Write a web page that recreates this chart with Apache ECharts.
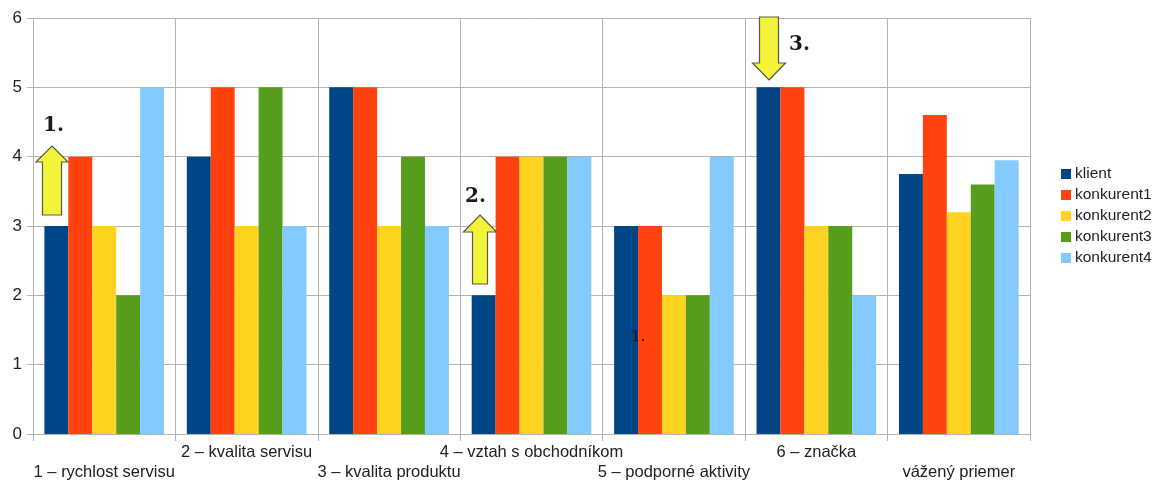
<!DOCTYPE html>
<html><head><meta charset="utf-8">
<script src="https://cdn.jsdelivr.net/npm/echarts@6/dist/echarts.min.js"></script>
<style>html,body{margin:0;padding:0;background:#fff}#c{width:1160px;height:481px}</style>
</head><body><div id="c"></div>
<script>
const categories = ['1 – rychlost servisu','2 – kvalita servisu','3 – kvalita produktu','4 – vztah s obchodníkom','5 – podporné aktivity','6 – značka','vážený priemer'];
const klient      = [3, 4, 5, 2, 3, 5, 3.75];
const konkurent1  = [4, 5, 5, 4, 3, 5, 4.6];
const konkurent2  = [3, 3, 3, 4, 2, 3, 3.2];
const konkurent3  = [2, 5, 4, 4, 2, 3, 3.6];
const konkurent4  = [5, 3, 3, 4, 4, 2, 3.95];
const seriesNames = ['klient','konkurent1','konkurent2','konkurent3','konkurent4'];
const yTicks = [0,1,2,3,4,5,6];

const colors = ['#004586','#ff420e','#ffd320','#579d1c','#83caff'];
const font = 'Liberation Sans, Arial, sans-serif';
const chart = echarts.init(document.getElementById('c'));
const data = [klient, konkurent1, konkurent2, konkurent3, konkurent4];

function upArrow(cx, tipY, baseY, headY, halfHead, halfShaft){
  return [[cx,tipY],[cx+halfHead,headY],[cx+halfShaft,headY],[cx+halfShaft,baseY],[cx-halfShaft,baseY],[cx-halfShaft,headY],[cx-halfHead,headY]];
}
function downArrow(cx, tipY, topY, headY, halfHead, halfShaft){
  return [[cx,tipY],[cx+halfHead,headY],[cx+halfShaft,headY],[cx+halfShaft,topY],[cx-halfShaft,topY],[cx-halfShaft,headY],[cx-halfHead,headY]];
}
const arrowStyle = {fill:'#f3f33a', stroke:'#5a5a4a', lineWidth:1.2};
const numStyle = {fill:'#1a1a1a', font:'bold 20px "DejaVu Serif", "Liberation Serif", serif'};

chart.setOption({
  animation:false,
  backgroundColor:'#fff',
  color: colors,
  grid:{left:33, right:130, top:18, bottom:47, containLabel:false, outerBoundsMode:'none'},
  legend:{
    orient:'vertical', left:1056, top:161, itemWidth:10, itemHeight:10, itemGap:5,
    icon:'rect',
    textStyle:{fontFamily:font, fontSize:15.5, color:'#222', padding:[0,0,0,-1]},
    data: seriesNames
  },
  xAxis:{
    type:'category', data:categories,
    axisLine:{show:true, lineStyle:{color:'#b3b3b3', width:1}},
    axisTick:{show:true, length:7, lineStyle:{color:'#b3b3b3'}},
    splitLine:{show:true, lineStyle:{color:'#b3b3b3', width:1}},
    axisLabel:{interval:0, fontFamily:font, fontSize:16.5, color:'#222', margin:8, lineHeight:20,
      hideOverlap:false,
      formatter:(v,i)=> i%2===0 ? '\n'+v : v}
  },
  yAxis:{
    type:'value', min:0, max:6, interval:1,
    axisLine:{show:true, lineStyle:{color:'#b3b3b3'}},
    axisTick:{show:true, length:6, lineStyle:{color:'#b3b3b3'}},
    splitLine:{show:true, lineStyle:{color:'#b3b3b3', width:1}},
    axisLabel:{fontFamily:font, fontSize:17, color:'#222', margin:11,
      formatter:v=> yTicks.includes(v) ? String(v) : ''}
  },
  series: seriesNames.map((n,i)=>({
    name:n, type:'bar', data:data[i], barGap:'0%', barCategoryGap:'16%',
    itemStyle:{color:colors[i]}
  }))
});

chart.setOption({
  graphic:[
    {type:'polygon', shape:{points:upArrow(52,146,215,162,16,9.5)}, style:arrowStyle, z:100},
    {type:'polygon', shape:{points:upArrow(480,215,284,232,16.5,7.5)}, style:arrowStyle, z:100},
    {type:'polygon', shape:{points:downArrow(769,80,17,63,16.5,9.5)}, style:arrowStyle, z:100},
    {type:'text', left:43, top:116, style:Object.assign({text:'1.'}, numStyle), z:101},
    {type:'text', left:465, top:187, style:Object.assign({text:'2.'}, numStyle), z:101},
    {type:'text', left:789, top:35, style:Object.assign({text:'3.'}, numStyle), z:101},
    {type:'text', left:631, top:330, style:{text:'1.', fill:'#111', font:'15px "DejaVu Serif", "Liberation Serif", serif'}, z:101}
  ]
});
</script></body></html>
